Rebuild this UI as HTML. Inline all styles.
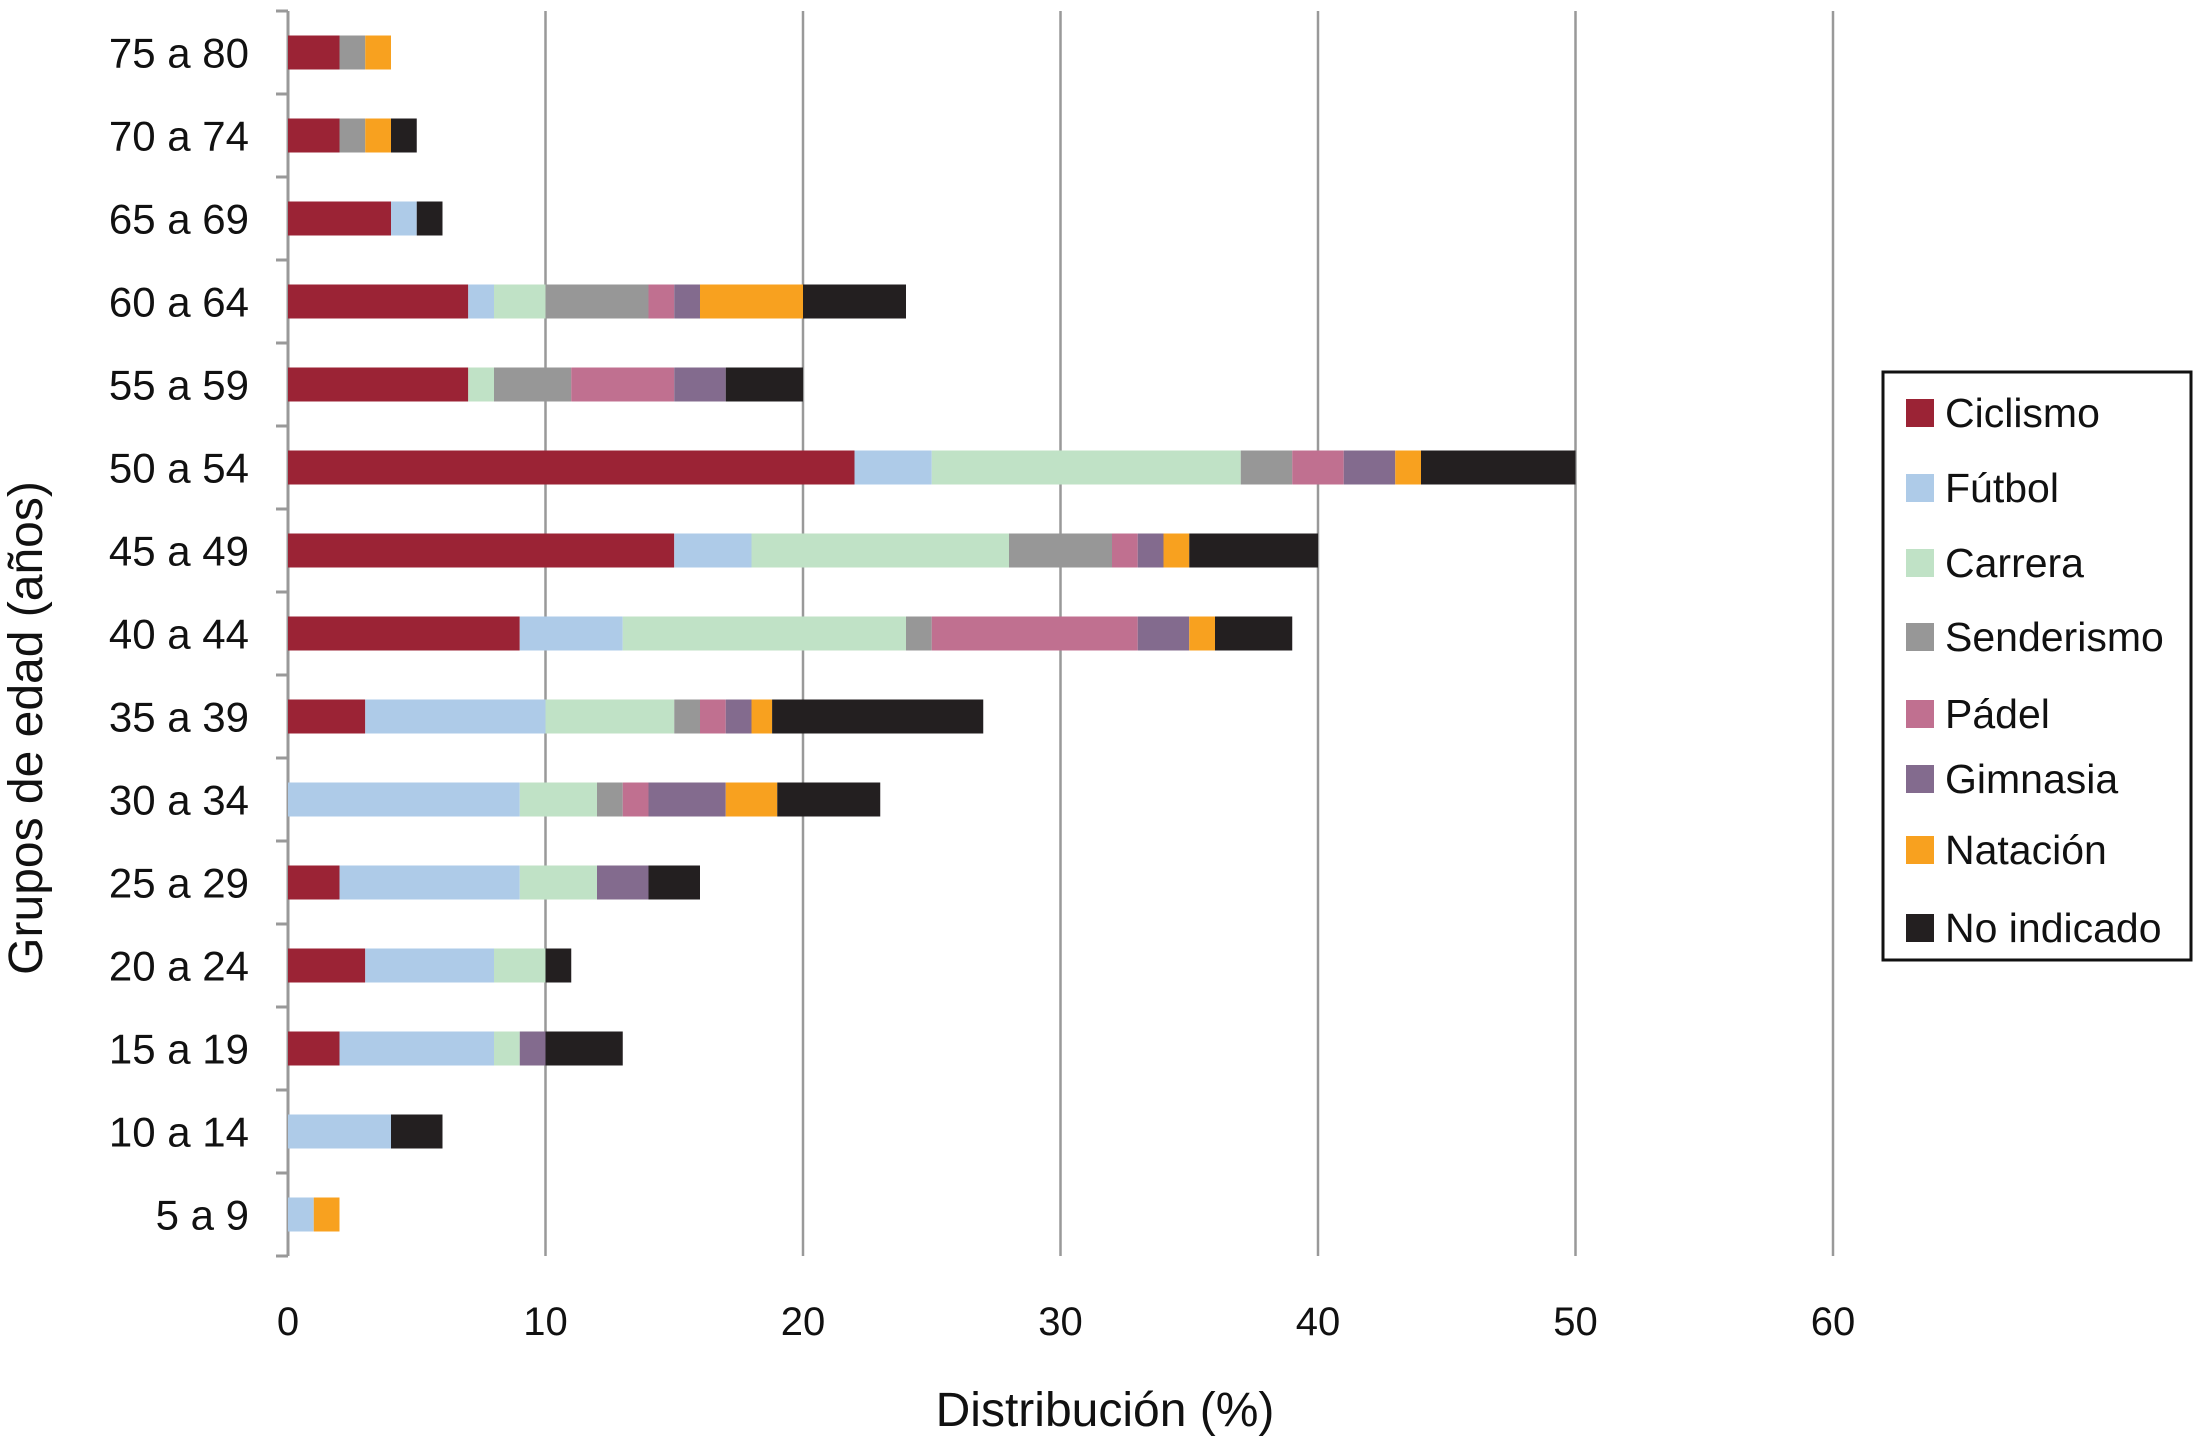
<!DOCTYPE html>
<html><head><meta charset="utf-8"><style>
body{margin:0;background:#fff;}
svg text{font-family:"Liberation Sans",sans-serif;fill:#111;}
</style></head><body>
<svg id="chart" width="2194" height="1439" xmlns="http://www.w3.org/2000/svg"></svg>
<script>
const categories=["75 a 80","70 a 74","65 a 69","60 a 64","55 a 59","50 a 54","45 a 49","40 a 44","35 a 39","30 a 34","25 a 29","20 a 24","15 a 19","10 a 14","5 a 9"];
const seriesNames=["Ciclismo","Fútbol","Carrera","Senderismo","Pádel","Gimnasia","Natación","No indicado"];
const ciclismo=[2,2,4,7,7,22,15,9,3,0,2,3,2,0,0];
const futbol=[0,0,1,1,0,3,3,4,7,9,7,5,6,4,1];
const carrera=[0,0,0,2,1,12,10,11,5,3,3,2,1,0,0];
const senderismo=[1,1,0,4,3,2,4,1,1,1,0,0,0,0,0];
const padel=[0,0,0,1,4,2,1,8,1,1,0,0,0,0,0];
const gimnasia=[0,0,0,1,2,2,1,2,1,3,2,0,1,0,0];
const natacion=[1,1,0,4,0,1,1,1,0.8,2,0,0,0,0,1];
const noIndicado=[0,1,1,4,3,6,5,3,8.2,4,2,1,3,2,0];
const xTicks=[0,10,20,30,40,50,60];
const series=[ciclismo,futbol,carrera,senderismo,padel,gimnasia,natacion,noIndicado];
const colors=["#9b2335","#aecbe8","#c0e2c6","#979797","#c07090","#836b8e","#f8a11f","#231f20"];
const svg=document.getElementById('chart');
const NS="http://www.w3.org/2000/svg";
const X0=288,X1=1833,Y0=11,Y1=1256;
const x=v=>X0+(v/60)*(X1-X0);
const rowH=(Y1-Y0)/categories.length;
const yc=i=>Y0+rowH*(i+0.5);
function mk(tag,attrs){const e=document.createElementNS(NS,tag);for(const k in attrs)e.setAttribute(k,attrs[k]);svg.appendChild(e);return e;}
xTicks.forEach(t=>{
  if(t>0){const g=mk('line',{x1:x(t),x2:x(t),y1:Y0,y2:Y1,stroke:'#999','stroke-width':2.5});
  
  }
  const tl=mk('text',{x:x(t),y:1335,'font-size':40,'text-anchor':'middle'});tl.textContent=t;
  
  
});
const ax=mk('line',{x1:X0,x2:X0,y1:Y0,y2:Y1,stroke:'#999','stroke-width':3});


for(let i=0;i<=categories.length;i++){
  const tk=mk('line',{x1:X0-12,x2:X0,y1:Y0+rowH*i,y2:Y0+rowH*i,stroke:'#999','stroke-width':3});
  
  
}
categories.forEach((c,i)=>{
  let acc=0;
  series.forEach((s,j)=>{
    const v=s[i];if(v>0){
      const r=mk('rect',{x:x(acc),y:yc(i)-17,width:x(acc+v)-x(acc),height:34,fill:colors[j]});
      
      
    }
    acc+=v;
  });
  const l=mk('text',{x:249,y:yc(i)+15,'font-size':42,'text-anchor':'end'});l.textContent=c;
  
  
});
const xt=mk('text',{x:1105,y:1426,'font-size':48,'text-anchor':'middle'});xt.textContent="Distribución (%)";


const yt=mk('text',{x:0,y:0,'font-size':48,'text-anchor':'middle',transform:'translate(42,728) rotate(-90)'});yt.textContent="Grupos de edad (años)";


const lb=mk('rect',{x:1883,y:372,width:308,height:588,fill:'#fff',stroke:'#111','stroke-width':3});


const ly=[413,488,563,637,714,779,850,928];
seriesNames.forEach((n,j)=>{
  const s=mk('rect',{x:1906,y:ly[j]-14,width:28,height:28,fill:colors[j]});
  
  
  const t=mk('text',{x:1945,y:ly[j]+14,'font-size':41});t.textContent=n;
  
  
});
</script>
</body></html>
